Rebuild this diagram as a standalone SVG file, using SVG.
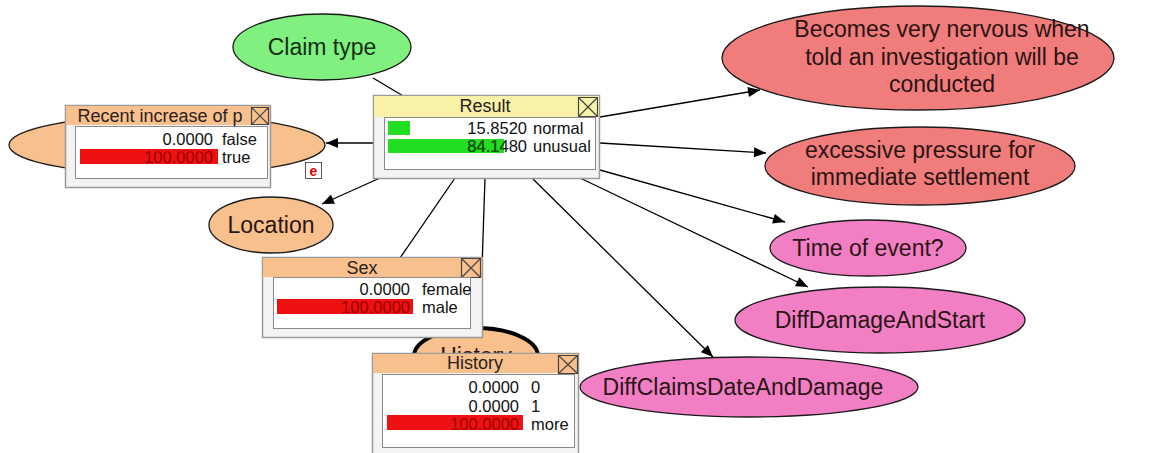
<svg xmlns="http://www.w3.org/2000/svg" width="1172" height="453" viewBox="0 0 1172 453">
<defs>
<marker id="arr" viewBox="0 0 12 10" refX="12" refY="5" markerWidth="13" markerHeight="10" markerUnits="userSpaceOnUse" orient="auto"><path d="M0,0 L12,5 L0,10 z" fill="#000"/></marker>
<clipPath id="clipU"><rect x="388" y="139" width="116" height="14"/></clipPath>
</defs>
<style>
.lbl{font-family:"Liberation Sans",Arial,sans-serif;font-size:23px;fill:#2a1414;text-anchor:middle}
.ttl{font-family:"Liberation Sans",Arial,sans-serif;font-size:18px;fill:#2a2020;text-anchor:middle}
.num{font-family:"Liberation Sans",Arial,sans-serif;font-size:16.5px;fill:#111;text-anchor:end}
.st{font-family:"Liberation Sans",Arial,sans-serif;font-size:16.5px;fill:#111}
.ell{stroke:#1a1a1a;stroke-width:1.3}
.conn line{stroke:#000;stroke-width:1.3}
.frame{fill:#f3f3f3;stroke:#9a9a9a;stroke-width:1.5}
.panel{fill:#fff;stroke:#8a8a8a;stroke-width:1}
.close{fill:none;stroke:#444;stroke-width:1.2}
.orange{fill:#f8c08c}
.salmon{fill:#f07c7c}
.pink{fill:#f27fc4}
.redbar{fill:#ee1111}
.redtxt{fill:#9a0000}
</style>
<rect width="1172" height="453" fill="#fff"/>

<g id="connectors" class="conn">
<line x1="373" y1="78" x2="410" y2="100"/>
<line x1="600" y1="117" x2="760" y2="90" marker-end="url(#arr)"/>
<line x1="600" y1="143" x2="766" y2="153" marker-end="url(#arr)"/>
<line x1="600" y1="170" x2="785" y2="222" marker-end="url(#arr)"/>
<line x1="580" y1="178" x2="808" y2="287" marker-end="url(#arr)"/>
<line x1="532" y1="178" x2="713" y2="357" marker-end="url(#arr)"/>
<line x1="485" y1="178" x2="480" y2="328"/>
<line x1="455" y1="178" x2="400" y2="258"/>
<line x1="380" y1="178" x2="322" y2="204" marker-end="url(#arr)"/>
<line x1="373" y1="143" x2="326" y2="143" marker-end="url(#arr)"/>
</g>

<g id="claim-type">
<ellipse class="ell" cx="322" cy="47" rx="89" ry="33" fill="#80f080"/>
<text class="lbl" x="322" y="55" style="fill:#163016">Claim type</text>
</g>

<g id="becomes-nervous">
<ellipse class="ell salmon" cx="918" cy="58" rx="196" ry="52"/>
<text class="lbl" x="942" y="37">Becomes very nervous when</text>
<text class="lbl" x="942" y="65">told an investigation will be</text>
<text class="lbl" x="942" y="92">conducted</text>
</g>

<g id="excessive-pressure">
<ellipse class="ell salmon" cx="920" cy="166" rx="155" ry="39"/>
<text class="lbl" x="920" y="158">excessive pressure for</text>
<text class="lbl" x="920" y="185">immediate settlement</text>
</g>

<g id="time-of-event">
<ellipse class="ell pink" cx="868" cy="248" rx="98" ry="28"/>
<text class="lbl" x="868" y="256">Time of event?</text>
</g>

<g id="diff-damage-start">
<ellipse class="ell pink" cx="880" cy="320" rx="145" ry="33"/>
<text class="lbl" x="880" y="328">DiffDamageAndStart</text>
</g>

<g id="diff-claims-date">
<ellipse class="ell pink" cx="749" cy="387" rx="169" ry="30"/>
<text class="lbl" x="743" y="395">DiffClaimsDateAndDamage</text>
</g>

<g id="location">
<ellipse class="ell orange" cx="271" cy="225" rx="62" ry="28"/>
<text class="lbl" x="271" y="233">Location</text>
</g>

<g id="recent-increase">
<ellipse class="ell orange" cx="167" cy="145" rx="158" ry="30"/>
<rect class="frame" x="65.5" y="105.5" width="205" height="82"/>
<rect x="66" y="106" width="204" height="19" class="orange"/>
<text class="ttl" x="160" y="122">Recent increase of p</text>
<path class="close" d="M251.5,107.5h17v17h-17z M251.5,107.5l17,17 M268.5,107.5l-17,17"/>
<rect class="panel" x="75.5" y="126.5" width="192" height="52"/>
<text class="num" x="213" y="145">0.0000</text><text class="st" x="222" y="145">false</text>
<rect class="redbar" x="80" y="149" width="138" height="15"/>
<text class="num redtxt" x="213" y="163" style="fill:#9a0000">100.0000</text><text class="st" x="222" y="163">true</text>
<rect x="305.5" y="162.5" width="16" height="16" fill="#fff" stroke="#555" stroke-width="1"/>
<text x="313.5" y="176" text-anchor="middle" style="font-family:'Liberation Sans',Arial,sans-serif;font-size:14px;font-weight:bold;fill:#dd0000">e</text>
</g>

<g id="history">
<ellipse cx="476" cy="356" rx="62" ry="28" class="orange" stroke="#000" stroke-width="4"/>
<text class="lbl" x="476" y="364">History</text>
<rect class="frame" x="372.5" y="353.5" width="206" height="102"/>
<rect x="373" y="354" width="205" height="19" class="orange"/>
<text class="ttl" x="475" y="369">History</text>
<path class="close" d="M558.5,355.5h19v18h-19z M558.5,355.5l19,18 M577.5,355.5l-19,18"/>
<rect class="panel" x="382.5" y="374.5" width="192" height="73"/>
<text class="num" x="519" y="393">0.0000</text><text class="st" x="531" y="393">0</text>
<text class="num" x="519" y="412">0.0000</text><text class="st" x="531" y="412">1</text>
<rect class="redbar" x="387" y="415" width="136" height="15"/>
<text class="num" x="519" y="430" style="fill:#9a0000">100.0000</text><text class="st" x="531" y="430">more</text>
</g>

<g id="sex">
<rect class="frame" x="262.5" y="257.5" width="220" height="80"/>
<rect x="263" y="258" width="219" height="19" class="orange"/>
<text class="ttl" x="362" y="274">Sex</text>
<path class="close" d="M461.5,258.5h19v19h-19z M461.5,258.5l19,19 M480.5,258.5l-19,19"/>
<rect class="panel" x="273.5" y="277.5" width="197" height="51"/>
<text class="num" x="410" y="295">0.0000</text><text class="st" x="422" y="295">female</text>
<rect class="redbar" x="277" y="299" width="136" height="15"/>
<text class="num" x="410" y="313" style="fill:#9a0000">100.0000</text><text class="st" x="422" y="313">male</text>
</g>

<g id="result">
<rect class="frame" x="373.5" y="95.5" width="226" height="83"/>
<rect x="374" y="96" width="225" height="21" fill="#f7f2a8"/>
<text class="ttl" x="485" y="112">Result</text>
<path class="close" d="M578.5,97.5h19v19h-19z M578.5,97.5l19,19 M597.5,97.5l-19,19"/>
<rect class="panel" x="384.5" y="117.5" width="211" height="52"/>
<rect x="388" y="121" width="22" height="14" fill="#22dd22"/>
<rect x="388" y="139" width="116" height="14" fill="#22dd22"/>
<text class="num" x="527" y="134">15.8520</text><text class="st" x="533" y="134">normal</text>
<text class="num" x="527" y="152">84.1480</text>
<text class="num" x="527" y="152" clip-path="url(#clipU)" style="fill:#0c5a0c">84.1480</text>
<text class="st" x="533" y="152">unusual</text>
</g>
</svg>
